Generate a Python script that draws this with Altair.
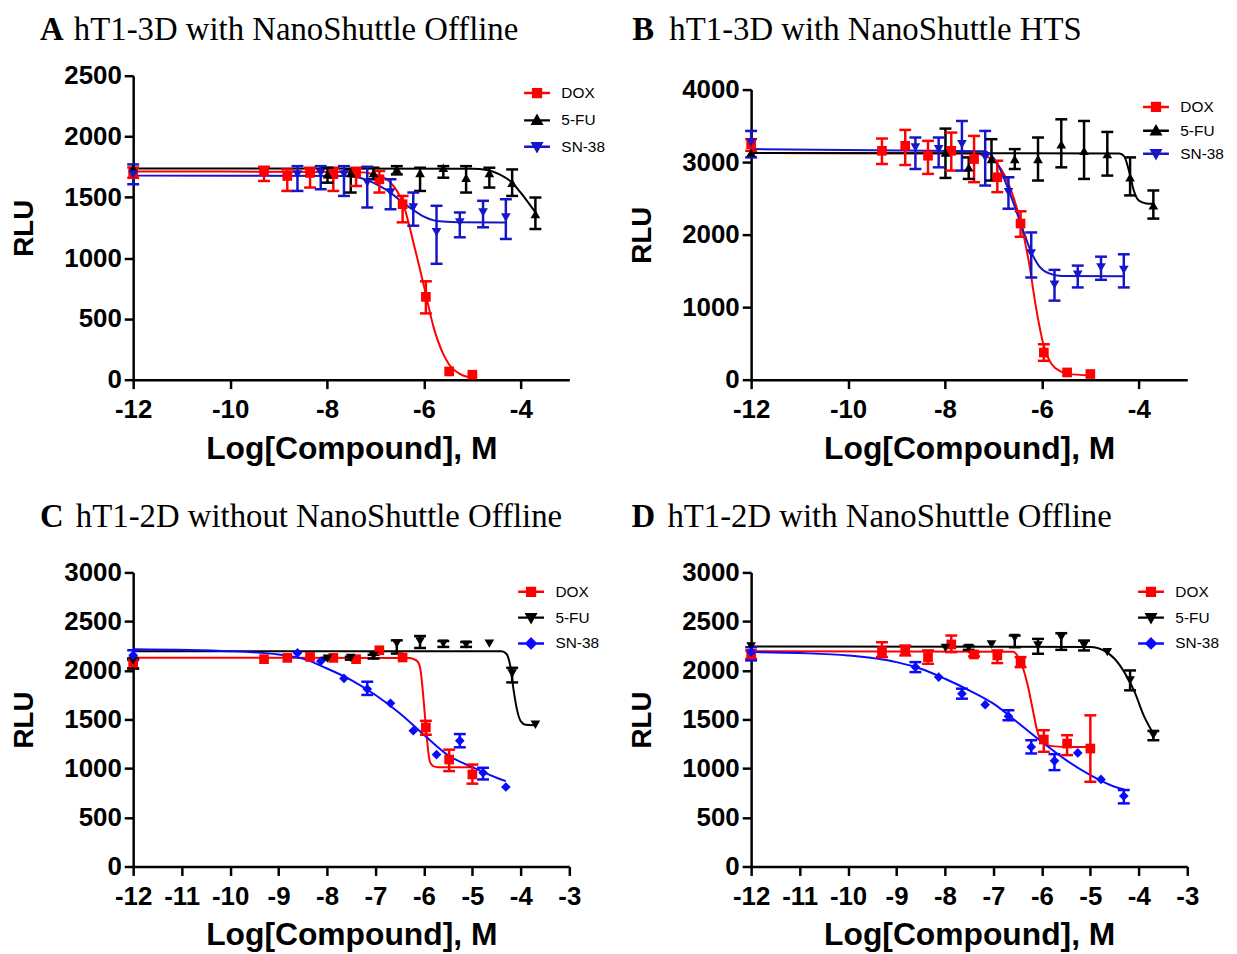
import altair as alt
import pandas as pd

SERIES = ["DOX", "5-FU", "SN-38"]

# concentrations (log M)
X_DOX = [-12, -9.3, -8.82, -8.35, -7.87, -7.4, -6.92, -6.44, -5.96, -5.48, -5.0]
X_5FU = [-12, -7.99, -7.51, -7.04, -6.56, -6.08, -5.6, -5.13, -4.65, -4.18, -3.7]
X_SN38 = [-12, -8.61, -8.13, -7.65, -7.17, -6.69, -6.22, -5.74, -5.26, -4.78, -4.31]

# ---- Panel A ----
A_DOX_Y = [1702, 1716, 1675, 1700, 1690, 1700, 1648, 1443, 681, 68, 41]
A_DOX_LO = [1660, 1634, 1552, 1580, 1552, 1593, 1539, 1294, 545, None, None]
A_DOX_HI = [1745, 1751, 1729, 1743, 1743, 1743, 1716, 1511, 809, None, None]
A_5FU_Y = [1740, 1688, 1700, 1700, 1730, 1700, 1743, 1661, 1700, 1620, 1362]
A_5FU_LO = [None, 1620, 1539, 1648, 1688, 1552, 1661, 1539, 1580, 1511, 1239]
A_5FU_HI = [None, 1743, 1729, 1743, 1756, 1743, 1756, 1756, 1743, 1729, 1498]
A_SN38_Y = [1688, 1688, 1700, 1688, 1620, 1539, 1416, 1212, 1294, 1375, 1334]
A_SN38_LO = [1607, 1552, 1566, 1511, 1416, 1402, 1266, 953, 1171, 1253, 1157]
A_SN38_HI = [1770, 1756, 1756, 1756, 1751, 1648, 1539, 1430, 1375, 1471, 1484]
A_DOX_CX = [-12, -7.4, -7.0, -6.7, -6.44, -6.2, -6.0, -5.8, -5.6, -5.48, -5.25, -5.0]
A_DOX_CY = [1712, 1708, 1688, 1625, 1460, 1100, 770, 430, 210, 125, 45, 15]
A_5FU_CX = [-12, -5.0, -4.7, -4.45, -4.18, -3.96, -3.7]
A_5FU_CY = [1737, 1735, 1725, 1690, 1620, 1515, 1375]
A_SN38_CX = [-12, -7.6, -7.2, -6.9, -6.7, -6.45, -6.22, -6.0, -5.74, -5.3, -4.32]
A_SN38_CY = [1678, 1675, 1645, 1590, 1540, 1460, 1395, 1340, 1305, 1295, 1293]

# ---- Panel B ----
B_DOX_Y = [3247, 3156, 3225, 3088, 3156, 3042, 2791, 2153, 374, 100, 78]
B_DOX_LO = [3156, 2974, 2960, 2837, 2883, 2723, 2586, 1970, 260, None, None]
B_DOX_HI = [3316, 3325, 3444, 3293, 3407, 3361, 3019, 2322, 488, None, None]
B_5FU_Y = [3130, 3133, 2928, 3042, 3042, 3042, 3247, 3156, 3110, 2791, 2404]
B_5FU_LO = [None, 2782, 2768, 2746, 2905, 2746, 2928, 2768, 2814, 2541, 2221]
B_5FU_HI = [None, 3462, 3065, 3316, 3179, 3339, 3590, 3567, 3416, 3065, 2609]
B_SN38_Y = [3270, 3202, 3179, 3247, 3065, 2586, 1742, 1309, 1446, 1546, 1514]
B_SN38_LO = [3065, 2905, 2928, 2883, 2677, 2358, 1409, 1090, 1272, 1377, 1272]
B_SN38_HI = [3430, 3339, 3339, 3567, 3430, 2791, 2030, 1514, 1573, 1696, 1729]
B_DOX_CX = [-12, -7.4, -7.15, -6.92, -6.63, -6.44, -6.26, -6.12, -5.97, -5.8, -5.6, -5.48, -5.0]
B_DOX_CY = [3125, 3120, 3080, 2975, 2600, 2175, 1590, 990, 490, 215, 110, 80, 60]
B_5FU_CX = [-12, -4.4, -4.3, -4.2, -4.1, -4.0, -3.85, -3.69]
B_5FU_CY = [3125, 3120, 3080, 2870, 2600, 2470, 2430, 2425]
B_SN38_CX = [-12, -7.2, -6.92, -6.69, -6.44, -6.22, -6.05, -5.85, -5.6, -4.31]
B_SN38_CY = [3180, 3150, 2980, 2620, 2160, 1760, 1560, 1465, 1430, 1425]

# ---- Panel C ----
C_DOX_Y = [2081, 2115, 2128, 2138, 2128, 2115, 2206, 2132, 1419, 1091, 939]
C_DOX_LO = [2020, None, None, None, None, None, None, None, 1344, 973, 845]
C_DOX_HI = [2121, None, None, None, None, None, None, None, 1486, 1192, 1040]
C_5FU_Y = [2100, 2121, 2128, 2148, 2273, 2297, 2273, 2263, 2273, 1969, 1446]
C_5FU_LO = [2020, 2110, 2110, 2121, 2172, 2229, 2240, 2240, None, 1878, None]
C_5FU_HI = [2121, 2130, 2140, 2160, 2307, 2351, 2300, 2290, None, 2027, None]
C_SN38_Y = [2155, 2179, 2094, 1919, 1811, 1665, 1385, 1142, 1284, 956, 811]
C_SN38_LO = [2105, None, None, None, 1750, None, None, None, 1216, 888, None]
C_SN38_HI = [2206, None, None, None, 1885, None, None, None, 1351, 1007, None]
C_DOX_CX = [-12, -6.3, -6.15, -6.08, -6.01, -5.94, -5.88, -5.81, -5.71, -5.0]
C_DOX_CY = [2130, 2128, 2100, 2030, 1716, 1311, 1074, 1024, 1013, 1013]
C_5FU_CX = [-12, -4.4, -4.3, -4.22, -4.15, -4.08, -4.0, -3.9, -3.72]
C_5FU_CY = [2196, 2195, 2170, 2050, 1800, 1600, 1480, 1445, 1440]
C_SN38_CX = [-12, -10, -9, -8.5, -8, -7.5, -7, -6.5, -6, -5.5, -5, -4.5, -4.31]
C_SN38_CY = [2216, 2196, 2162, 2121, 2020, 1902, 1750, 1564, 1344, 1135, 1013, 905, 871]

# ---- Panel D ----
D_DOX_Y = [2170, 2197, 2204, 2136, 2265, 2163, 2153, 2085, 1295, 1254, 1203]
D_DOX_LO = [2119, 2136, 2153, 2068, 2187, 2143, 2075, 2034, 1170, 1136, 864]
D_DOX_HI = [2204, 2288, 2254, 2204, 2356, 2187, 2204, 2136, 1390, 1339, 1542]
D_5FU_Y = [2245, 2230, 2230, 2265, 2332, 2254, 2339, 2254, 2187, 1898, 1339]
D_5FU_LO = [None, None, 2210, None, 2237, 2170, 2210, 2204, None, 1797, 1288]
D_5FU_HI = [None, None, 2250, None, 2356, 2322, 2380, 2305, None, 2000, 1383]
D_SN38_Y = [2187, 2034, 1932, 1763, 1651, 1532, 1220, 1078, 1159, 888, 719]
D_SN38_LO = [2102, 1983, None, 1712, None, 1492, 1153, 983, None, None, 644]
D_SN38_HI = [2237, 2085, None, 1814, None, 1593, 1288, 1146, None, None, 780]
D_DOX_CX = [-12, -6.6, -6.45, -6.3, -6.2, -6.1, -6.0, -5.8, -5.5, -5.0]
D_DOX_CY = [2195, 2190, 2100, 1865, 1630, 1390, 1270, 1228, 1220, 1220]
D_5FU_CX = [-12, -5.0, -4.7, -4.5, -4.3, -4.1, -3.9, -3.68]
D_5FU_CY = [2245, 2240, 2197, 2119, 1983, 1797, 1542, 1339]
D_SN38_CX = [-12, -11, -10, -9, -8.5, -8, -7.5, -7, -6.5, -6, -5.5, -5, -4.5, -4.3]
D_SN38_CY = [2187, 2177, 2153, 2085, 2017, 1915, 1797, 1661, 1468, 1271, 1085, 932, 814, 786]

TITLES = {
    "A": "hT1-3D with NanoShuttle Offline",
    "B": "hT1-3D with NanoShuttle HTS",
    "C": "hT1-2D without NanoShuttle Offline",
    "D": "hT1-2D with NanoShuttle Offline",
}

RED = "#ff0000"
BLACK = "#000000"
BLUE_3D = "#1616c8"
BLUE_2D = "#0a0aff"

# legend symbol paths: line with marker
P_SQUARE = "M-1,0L1,0M-0.3,-0.3L0.3,-0.3L0.3,0.3L-0.3,0.3Z"
P_TUP = "M-1,0L1,0M0,-0.34L0.34,0.26L-0.34,0.26Z"
P_TDOWN = "M-1,0L1,0M-0.34,-0.26L0.34,-0.26L0,0.34Z"
P_DIAMOND = "M-1,0L1,0M0,-0.36L0.36,0L0,0.36L-0.36,0Z"

g = globals()

PANELS = [
    dict(key="A", ymax=2500, ystep=500, h=306, rtop=0, xticks=[-12, -10, -8, -6, -4],
         shapes=["square", "triangle-up", "triangle-down"], lpaths=[P_SQUARE, P_TUP, P_TDOWN],
         blue=BLUE_3D, lx=392, ly=3, rp=3.5, letter_dx=-93.7, text_dx=-59.7, tdy=-35.7),
    dict(key="B", ymax=4000, ystep=1000, h=306, rtop=14, xticks=[-12, -10, -8, -6, -4],
         shapes=["square", "triangle-up", "triangle-down"], lpaths=[P_SQUARE, P_TUP, P_TDOWN],
         blue=BLUE_3D, lx=393, ly=17, rp=0, letter_dx=-119.7, text_dx=-82.3, tdy=-35.7),
    dict(key="C", ymax=3000, ystep=500, h=296, rtop=0, xticks=list(range(-12, -2)),
         shapes=["square", "triangle-down", "diamond"], lpaths=[P_SQUARE, P_TDOWN, P_DIAMOND],
         blue=BLUE_2D, lx=386, ly=5, rp=2, letter_dx=-93.7, text_dx=-57.7, tdy=-45.3),
    dict(key="D", ymax=3000, ystep=500, h=296, rtop=0, xticks=list(range(-12, -2)),
         shapes=["square", "triangle-down", "diamond"], lpaths=[P_SQUARE, P_TDOWN, P_DIAMOND],
         blue=BLUE_2D, lx=388, ly=5, rp=2, letter_dx=-120.3, text_dx=-84.3, tdy=-45.3),
]

XS = {"DOX": X_DOX, "5-FU": X_5FU, "SN-38": X_SN38}
SUFFIX = {"DOX": "DOX", "5-FU": "5FU", "SN-38": "SN38"}


def make_panel(p):
    k = p["key"]
    colors = [RED, BLACK, p["blue"]]
    rows, crows = [], []
    for s, col, shp in zip(SERIES, colors, p["shapes"]):
        suf = SUFFIX[s]
        ys = g[f"{k}_{suf}_Y"]
        los = g[f"{k}_{suf}_LO"]
        his = g[f"{k}_{suf}_HI"]
        for xv, yv, lo, hi in zip(XS[s], ys, los, his):
            rows.append(dict(series=s, col=col, shp=shp, x=xv, y=yv,
                             lo=lo if lo is not None else yv,
                             hi=hi if hi is not None else yv))
        for xv, yv in zip(g[f"{k}_{suf}_CX"], g[f"{k}_{suf}_CY"]):
            crows.append(dict(series=s, col=col, x=xv, y=yv))
    pts = pd.DataFrame(rows)
    crv = pd.DataFrame(crows)

    xsc = alt.Scale(domain=[-12, -3], nice=False, zero=False)
    ysc = alt.Scale(domain=[0, p["ymax"]], range=[p["h"], p["rtop"]], nice=False)
    xax = alt.Axis(values=p["xticks"], title="Log[Compound], M", labelExpr="'' + datum.value")
    yax = alt.Axis(values=list(range(0, p["ymax"] + 1, p["ystep"])), title="RLU", format="d")

    X = lambda f: alt.X(f"{f}:Q", scale=xsc, axis=xax)
    Y = lambda f: alt.Y(f"{f}:Q", scale=ysc, axis=yax)

    curves = alt.Chart(crv).mark_line(strokeWidth=2, interpolate="monotone").encode(
        x=X("x"), y=Y("y"), color=alt.Color("col:N", scale=None), detail="series:N")

    base_err = alt.Chart(pts).transform_filter("datum.hi > datum.lo")
    bars = base_err.mark_rule(strokeWidth=2.5).encode(
        x=X("x"), y=Y("lo"), y2="hi:Q", color=alt.Color("col:N", scale=None))
    cap_lo = base_err.mark_tick(orient="horizontal", size=12, thickness=2.5, opacity=1).encode(
        x=X("x"), y=Y("lo"), color=alt.Color("col:N", scale=None))
    cap_hi = base_err.mark_tick(orient="horizontal", size=12, thickness=2.5, opacity=1).encode(
        x=X("x"), y=Y("hi"), color=alt.Color("col:N", scale=None))

    points = alt.Chart(pts).mark_point(filled=True, size=95, opacity=1).encode(
        x=X("x"), y=Y("y"), color=alt.Color("col:N", scale=None),
        shape=alt.Shape("shp:N", scale=None))

    leg = alt.Legend(orient="none", legendX=p["lx"], legendY=p["ly"], title=None,
                     direction="vertical", labelFont="Liberation Sans", labelFontSize=15.5,
                     labelColor="black", symbolSize=676, symbolStrokeWidth=2.5,
                     symbolOpacity=1, labelOffset=10, rowPadding=p["rp"], padding=0)
    legend_layer = alt.Chart(pd.DataFrame({"series": SERIES})).mark_point(
        filled=True, opacity=0).encode(
        color=alt.Color("series:N", scale=alt.Scale(domain=SERIES, range=colors), legend=leg),
        stroke=alt.Stroke("series:N", scale=alt.Scale(domain=SERIES, range=colors), legend=leg),
        shape=alt.Shape("series:N", scale=alt.Scale(domain=SERIES, range=p["lpaths"]), legend=leg),
    )

    tdf = pd.DataFrame({"letter": [k], "title": [TITLES[k]]})
    letter = alt.Chart(tdf).mark_text(align="left", baseline="alphabetic", font="Liberation Serif",
                                      fontSize=33, fontWeight="bold", color="black").encode(
        x=alt.value(p["letter_dx"]), y=alt.value(p["tdy"]), text="letter:N")
    ttl = alt.Chart(tdf).mark_text(align="left", baseline="alphabetic", font="Liberation Serif",
                                   fontSize=33, fontWeight="normal", color="black").encode(
        x=alt.value(p["text_dx"]), y=alt.value(p["tdy"]), text="title:N")

    return alt.layer(curves, bars, cap_lo, cap_hi, points, legend_layer, letter, ttl).properties(
        width=439, height=p["h"])


charts = [make_panel(p) for p in PANELS]

chart = alt.concat(
    *charts, columns=2, spacing={"row": 194, "column": 183}, bounds="flush"
).resolve_scale(
    color="independent", stroke="independent", shape="independent"
).resolve_legend(
    color="independent", stroke="independent", shape="independent"
).properties(
    padding={"left": 3, "top": 3, "right": 5, "bottom": 5}
).configure_view(
    stroke=None
).configure_axis(
    domainColor="black", domainWidth=2.5, tickColor="black", tickWidth=2.5, tickSize=9,
    labelFont="Liberation Sans", labelFontSize=26, labelFontWeight="bold", labelColor="black",
    labelPadding=3, titleFont="Liberation Sans", titleFontWeight="bold", titleColor="black",
    grid=False, labelFlush=False, labelOverlap=False
).configure_axisX(
    labelPadding=8, titleFontSize=32, titlePadding=11
).configure_axisY(
    titleFontSize=28, titlePadding=25
)

chart.save("out.html", embed_options={"renderer": "svg", "actions": False})
